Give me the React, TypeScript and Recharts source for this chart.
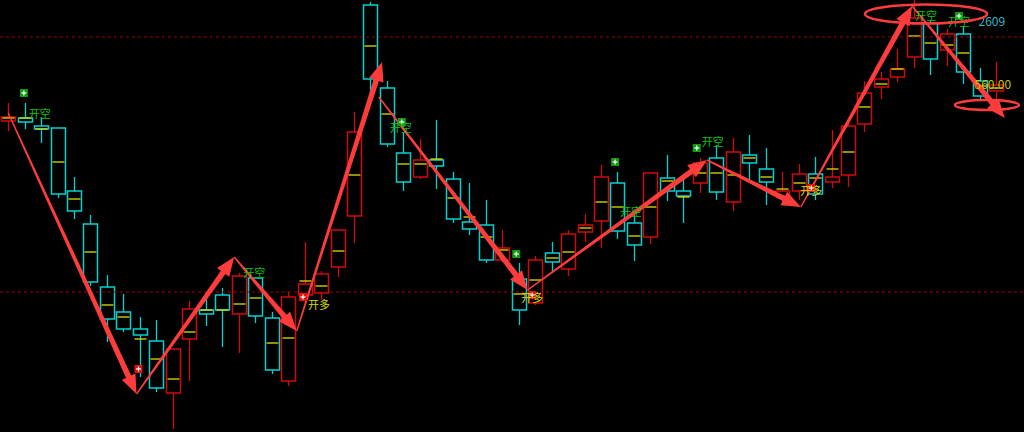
import { ComposedChart, Bar, XAxis, YAxis, ReferenceLine, ReferenceDot } from 'recharts';

// candle values (one entry per bar, left to right)
const opens = [2511, 2514, 2506, 2504, 2441, 2408, 2345, 2320, 2303, 2291, 2239, 2293, 2322, 2337, 2318, 2354, 2314, 2251, 2337, 2339, 2365, 2416, 2627, 2544, 2479, 2455, 2472, 2453, 2410, 2407, 2372, 2353, 2329, 2379, 2363, 2400, 2411, 2449, 2409, 2395, 2454, 2441, 2449, 2474, 2430, 2477, 2463, 2436, 2441, 2458, 2450, 2457, 2508, 2545, 2555, 2575, 2609, 2582, 2598, 2551, 2541];
const closes = [2515, 2510, 2503, 2438, 2421, 2350, 2313, 2303, 2297, 2244, 2283, 2323, 2318, 2322, 2356, 2316, 2262, 2335, 2348, 2358, 2402, 2500, 2553, 2488, 2450, 2472, 2466, 2413, 2403, 2372, 2384, 2322, 2372, 2370, 2398, 2407, 2455, 2401, 2387, 2459, 2441, 2436, 2469, 2440, 2480, 2469, 2450, 2441, 2458, 2438, 2455, 2506, 2539, 2553, 2563, 2614, 2573, 2598, 2560, 2536, 2547];
const highs = [2529, 2529, 2515, 2504, 2455, 2417, 2357, 2338, 2315, 2312, 2283, 2331, 2340, 2344, 2359, 2354, 2320, 2340, 2390, 2361, 2402, 2520, 2630, 2551, 2500, 2493, 2512, 2460, 2449, 2432, 2402, 2369, 2376, 2390, 2402, 2418, 2467, 2460, 2417, 2460, 2477, 2452, 2474, 2487, 2494, 2497, 2484, 2460, 2468, 2475, 2502, 2510, 2551, 2560, 2583, 2632, 2612, 2603, 2606, 2564, 2570];
const lows = [2501, 2503, 2489, 2434, 2413, 2346, 2290, 2300, 2255, 2240, 2203, 2251, 2306, 2285, 2279, 2309, 2258, 2246, 2328, 2332, 2355, 2389, 2539, 2485, 2441, 2453, 2443, 2409, 2397, 2369, 2370, 2307, 2327, 2359, 2356, 2390, 2384, 2393, 2371, 2388, 2431, 2409, 2439, 2432, 2421, 2451, 2427, 2430, 2432, 2432, 2444, 2445, 2500, 2533, 2550, 2564, 2557, 2566, 2548, 2533, 2532];
const avgs = [2514, 2514, 2503, 2470, 2433, 2380, 2327, 2315, 2293, 2273, 2253, 2300, 2322, 2322, 2328, 2334, 2289, 2294, 2351, 2346, 2381, 2457, 2586, 2518, 2468, 2468, 2473, 2434, 2415, 2395, 2382, 2338, 2352, 2374, 2380, 2404, 2430, 2425, 2396, 2425, 2451, 2435, 2459, 2459, 2457, 2474, 2455, 2443, 2449, 2454, 2463, 2480, 2525, 2548, 2563, 2596, 2589, 2587, 2579, 2546, 2544];

// dashed levels
const levels = [2595, 2340];

// zigzag arrows: [bar index, price]
const arrowStarts = [[0, 2519], [7.79, 2238], [13.72, 2375], [17.52, 2301], [22.5, 2535], [31.54, 2342], [42.43, 2472], [48.13, 2425], [54.89, 2626]];
const arrowEnds = [[7.79, 2238], [13.72, 2375], [17.52, 2301], [22.7, 2570], [31.54, 2342], [42.43, 2472], [48.13, 2425], [54.89, 2626], [60.52, 2514]];

// signal markers
const greenMarks = [[0.95, 2539], [23.9, 2510], [30.85, 2378], [36.85, 2470], [41.81, 2484], [57.73, 2616]];
const redMarks = [[7.91, 2263], [17.9, 2335], [31.82, 2337], [48.77, 2444]];
const shortLabels = [[1.92, 2519], [14.94, 2360], [23.83, 2505], [37.82, 2421], [42.78, 2491], [55.73, 2617], [57.73, 2611]];
const longLabels = [[18.87, 2328], [31.82, 2335], [48.77, 2442]];
const ellipses = [[55.73, 2618, 61, 9.5], [59.43, 2527, 32, 5]];

const RED = '#d00a0a';
const CYAN = '#00d2d2';
const YELLOW = '#e0e000';
const ARROW = '#ff3c3c';

const data = opens.map((o, i) => ({ i, open: o, close: closes[i], high: highs[i], low: lows[i], avg: avgs[i] }));
data.push({ i: opens.length, open: null, close: null, high: null, low: null, avg: null } as any);

const Candle = (props: any) => {
    const { x, y, width, height, payload } = props;
    if (!payload || payload.high == null) return <g />;
    const top = Math.min(y, y + height);
    const bot = Math.max(y, y + height);
    const py = (v: number) => top + ((payload.high - v) / (payload.high - payload.low)) * (bot - top);
    const cx = Math.round(x + width / 2) + 0.5;
    const up = payload.close >= payload.open;
    const c = up ? RED : CYAN;
    const bt = py(Math.max(payload.open, payload.close));
    const bb = py(Math.min(payload.open, payload.close));
    const half = 7;
    return (
        <g>
            <line x1={cx} x2={cx} y1={top} y2={bt} stroke={c} strokeWidth={1.3} />
            <line x1={cx} x2={cx} y1={bb} y2={bot} stroke={c} strokeWidth={1.3} />
            <rect x={cx - half} y={bt} width={half * 2} height={Math.max(bb - bt, 1)} fill="none" stroke={c} strokeWidth={1.5} />
            <line x1={cx - half + 1} x2={cx + half - 1} y1={py(payload.avg)} y2={py(payload.avg)} stroke={YELLOW} strokeWidth={1.3} />
        </g>
    );
};

const Arrow = (props: any) => {
    const { x1, y1, x2, y2 } = props;
    const dx = x2 - x1, dy = y2 - y1;
    const len = Math.sqrt(dx * dx + dy * dy);
    const ux = dx / len, uy = dy / len;
    const nx = -uy, ny = ux;
    const hl = 19, hw = 7.5, w0 = 0.7, w1 = 2.8;
    const bx = x2 - ux * hl, by = y2 - uy * hl;
    const pts = [
        [x1 + nx * w0, y1 + ny * w0],
        [bx + nx * w1, by + ny * w1],
        [bx + nx * hw, by + ny * hw],
        [x2, y2],
        [bx - nx * hw, by - ny * hw],
        [bx - nx * w1, by - ny * w1],
        [x1 - nx * w0, y1 - ny * w0],
    ];
    return <polygon points={pts.map((p) => p.join(',')).join(' ')} fill={ARROW} />;
};

const PlusBox = (fill: string) => (props: any) => (
    <g>
        <rect x={props.cx - 4} y={props.cy - 4} width={8} height={8} fill={fill} />
        <line x1={props.cx - 2.5} x2={props.cx + 2.5} y1={props.cy} y2={props.cy} stroke="#fff" strokeWidth={1.2} />
        <line x1={props.cx} x2={props.cx} y1={props.cy - 2.5} y2={props.cy + 2.5} stroke="#fff" strokeWidth={1.2} />
    </g>
);

const Label = (text: string, color: string, size = 11) => (props: any) => (
    <text x={props.cx} y={props.cy} fill={color} fontSize={size} fontFamily="'Noto Sans CJK SC'" textAnchor="middle" dominantBaseline="central">
        {text}
    </text>
);

const Ellipse = (rx: number, ry: number) => (props: any) => (
    <ellipse cx={props.cx} cy={props.cy} rx={rx} ry={ry} fill="none" stroke={ARROW} strokeWidth={2.5} />
);

export default function App() {
    return (
        <div style={{ position: 'absolute', left: 0, top: 0, width: 1024, height: 432, background: '#000' }}>
            <ComposedChart width={1024} height={432} data={data} margin={{ top: 0, right: 3, bottom: 0, left: 0 }}>
                <XAxis dataKey="i" hide />
                <XAxis xAxisId="n" dataKey="i" type="number" domain={[-0.5, 61.5]} allowDataOverflow hide />
                <YAxis domain={[2200, 2632]} allowDataOverflow hide />
                {levels.map((v) => (
                    <ReferenceLine
                        key={v}
                        xAxisId="n"
                        segment={[{ x: -0.5, y: v }, { x: 61.7, y: v }]}
                        ifOverflow="visible"
                        stroke="#a00000"
                        strokeDasharray="3 3"
                    />
                ))}
                <Bar dataKey={(d: any) => (d.high == null ? null : [d.low, d.high])} shape={Candle} isAnimationActive={false} />
                {greenMarks.map(([i, p], k) => (
                    <ReferenceDot key={'g' + k} xAxisId="n" x={i} y={p} ifOverflow="visible" shape={PlusBox('#109a10')} />
                ))}
                {redMarks.map(([i, p], k) => (
                    <ReferenceDot key={'r' + k} xAxisId="n" x={i} y={p} ifOverflow="visible" shape={PlusBox('#e01010')} />
                ))}
                {shortLabels.map(([i, p], k) => (
                    <ReferenceDot key={'s' + k} xAxisId="n" x={i} y={p} ifOverflow="visible" shape={Label('开空', '#10c010')} />
                ))}
                {longLabels.map(([i, p], k) => (
                    <ReferenceDot key={'l' + k} xAxisId="n" x={i} y={p} ifOverflow="visible" shape={Label('开多', '#d8d800')} />
                ))}
                <ReferenceDot xAxisId="n" x={59.73} y={2612} ifOverflow="visible" shape={Label('2609', '#30b8c8', 12)} />
                <ReferenceDot xAxisId="n" x={59.79} y={2549} ifOverflow="visible" shape={Label('560.00', '#c8c800', 12)} />
                {arrowStarts.map((s, k) => (
                    <ReferenceLine
                        key={'a' + k}
                        xAxisId="n"
                        segment={[{ x: s[0], y: s[1] }, { x: arrowEnds[k][0], y: arrowEnds[k][1] }]}
                        ifOverflow="visible"
                        shape={Arrow}
                    />
                ))}
                {ellipses.map(([i, p, rx, ry], k) => (
                    <ReferenceDot key={'e' + k} xAxisId="n" x={i} y={p} ifOverflow="visible" shape={Ellipse(rx, ry)} />
                ))}
            </ComposedChart>
        </div>
    );
}
